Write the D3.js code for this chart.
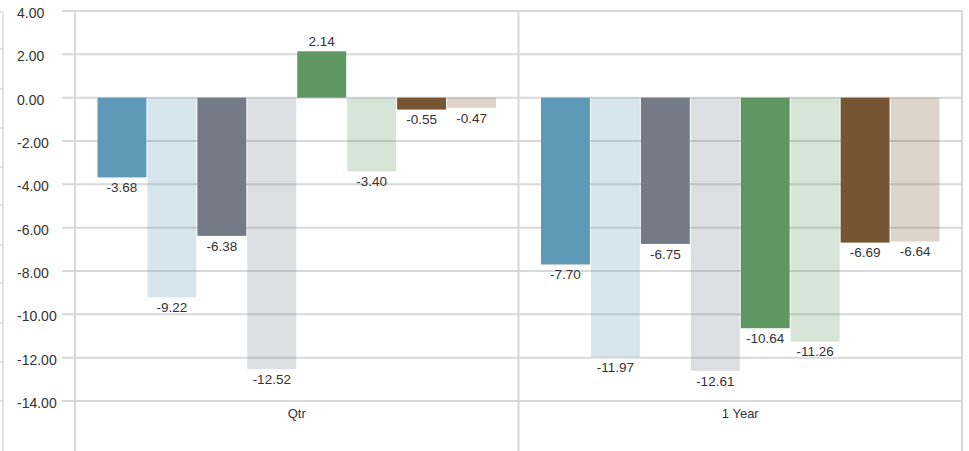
<!DOCTYPE html>
<html>
<head>
<meta charset="utf-8">
<script src="https://cdn.jsdelivr.net/npm/d3@7"></script>
<style>
  html, body { margin: 0; padding: 0; background: #fff; }
  svg { display: block; font-family: "Liberation Sans", Arial, Helvetica, sans-serif; }
</style>
</head>
<body>
<svg id="chart" width="969" height="451"></svg>
<script>
// ---- data ----
const categories = ["Qtr", "1 Year"];
const seriesNames = ["Series 1", "Series 2", "Series 3", "Series 4", "Series 5", "Series 6", "Series 7", "Series 8"];
const qtrValues   = [-3.68, -9.22, -6.38, -12.52, 2.14, -3.40, -0.55, -0.47];
const yearValues  = [-7.70, -11.97, -6.75, -12.61, -10.64, -11.26, -6.69, -6.64];
const yTicks = [4, 2, 0, -2, -4, -6, -8, -10, -12, -14];

// ---- styles ----
const seriesColors = ["#5e9ab8", "#5e9ab8", "#757a87", "#757a87", "#5f9762", "#5f9762", "#765534", "#765534"];
const seriesOpacity = [1, 0.25, 1, 0.25, 1, 0.25, 1, 0.25];

const valuesByCat = [qtrValues, yearValues];
const fmt = v => v.toFixed(2);

const svg = d3.select("#chart");
const W = 969, H = 451;
const plotLeft = 75, plotRight = 962, plotTop = 11, plotBottom = 401;
const gridLeft = 62;

const y = d3.scaleLinear().domain([-14, 4]).range([plotBottom, plotTop]);
const x0 = d3.scaleBand().domain(categories).range([plotLeft, plotRight]).paddingInner(0).paddingOuter(0);
const x1 = d3.scaleBand().domain(seriesNames).range([21.5, x0.bandwidth() - 21.5]).padding(0.02);

const gridColor = "#d9d9d9";

// stray left fragment (edge of neighbouring axis)
const leftTicks = [12, 49, 89, 128, 167, 205, 245, 283, 323, 362, 401];
svg.append("line").attr("x1", 3).attr("x2", 3).attr("y1", 12).attr("y2", H)
  .attr("stroke", gridColor).attr("stroke-width", 1.5);
svg.append("g").selectAll("line").data(leftTicks).join("line")
  .attr("x1", 0).attr("x2", 3).attr("y1", d => d).attr("y2", d => d)
  .attr("stroke", gridColor).attr("stroke-width", 1.5);

// horizontal gridlines
svg.append("g").selectAll("line").data(yTicks).join("line")
  .attr("x1", gridLeft).attr("x2", plotRight + 1)
  .attr("y1", d => y(d)).attr("y2", d => y(d))
  .attr("stroke", gridColor).attr("stroke-width", 2);

// vertical lines
const vx = [plotLeft, x0(categories[1]), plotRight];
svg.append("g").selectAll("line").data(vx).join("line")
  .attr("x1", d => d).attr("x2", d => d)
  .attr("y1", plotTop - 1).attr("y2", H)
  .attr("stroke", gridColor).attr("stroke-width", 2);

// y-axis labels
svg.append("g").selectAll("text").data(yTicks).join("text")
  .attr("x", 17).attr("y", d => y(d) + 2).attr("dy", "0.35em")
  .attr("font-size", 14).attr("fill", "#333")
  .text(d => fmt(d));

// bars
const groups = svg.append("g").selectAll("g").data(categories).join("g")
  .attr("transform", d => `translate(${x0(d)},0)`);

groups.each(function(cat, ci) {
  const g = d3.select(this);
  const data = valuesByCat[ci].map((v, i) => ({ name: seriesNames[i], v, i }));
  g.selectAll("rect").data(data).join("rect")
    .attr("x", d => x1(d.name))
    .attr("width", x1.bandwidth())
    .attr("y", d => Math.min(y(0), y(d.v)))
    .attr("height", d => Math.abs(y(d.v) - y(0)))
    .attr("fill", d => seriesColors[d.i])
    .attr("fill-opacity", d => seriesOpacity[d.i]);
  g.selectAll("text").data(data).join("text")
    .attr("x", d => x1(d.name) + x1.bandwidth() / 2)
    .attr("y", d => d.v >= 0 ? y(d.v) - 10 : y(d.v) + 10)
    .attr("dy", "0.35em")
    .attr("text-anchor", "middle")
    .attr("font-size", 13.5).attr("fill", "#333")
    .text(d => fmt(d.v));
});

// category labels
svg.append("g").selectAll("text").data(categories).join("text")
  .attr("x", d => x0(d) + x0.bandwidth() / 2)
  .attr("y", 413).attr("dy", "0.35em")
  .attr("text-anchor", "middle")
  .attr("font-size", 13).attr("fill", "#333")
  .text(d => d);
</script>
</body>
</html>
